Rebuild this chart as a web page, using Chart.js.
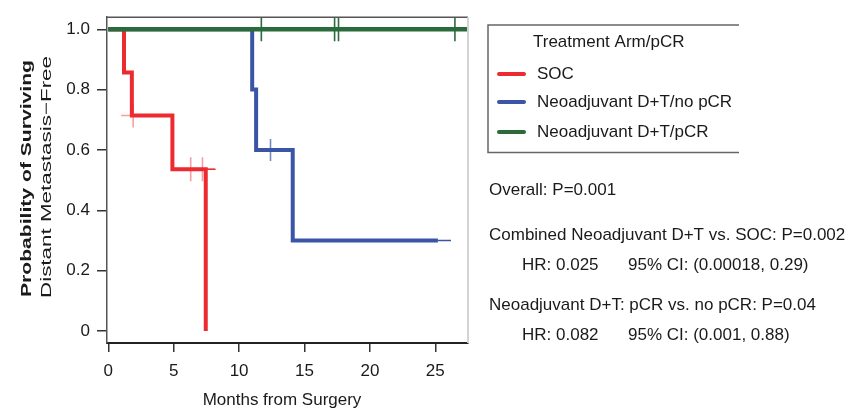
<!DOCTYPE html>
<html lang="en">

<head>
  <meta charset="UTF-8" />
  <title>Distant metastasis-free survival</title>
  <script src="https://cdn.jsdelivr.net/npm/chart.js"></script>
  <style>
    body { margin: 0; background: #fff; }
    #wrap { width: 856px; height: 417px; }
  </style>
</head>

<body>
  <div id="wrap">
    <canvas id="kmChart" width="856" height="417"></canvas>
  </div>

  <script>
    // tick values
    var xTicks = [0, 5, 10, 15, 20, 25];
    var yTicks = [0, 0.2, 0.4, 0.6, 0.8, 1.0];

    // SOC curve (Kaplan-Meier steps) and censored points
    var socTime = [0, 1.2, 1.8, 4.9, 7.45];
    var socSurv = [1, 0.857, 0.714, 0.536, 0];
    var socTailTime = [7.45, 8.2];
    var socTailSurv = [0.536, 0.536];
    var socCensorTime = [1.9, 6.3, 7.2];
    var socCensorSurv = [0.714, 0.536, 0.536];

    // Neoadjuvant D+T / no pCR
    var noPcrTime = [0, 11.0, 11.3, 14.1, 25.2];
    var noPcrSurv = [1, 0.8, 0.6, 0.3, 0.3];
    var noPcrTailTime = [25.2, 26.2];
    var noPcrTailSurv = [0.3, 0.3];
    var noPcrCensorTime = [12.4];
    var noPcrCensorSurv = [0.6];

    // Neoadjuvant D+T / pCR
    var pcrTime = [0, 27.5];
    var pcrSurv = [1, 1];
    var pcrCensorTime = [11.7, 17.3, 17.6, 26.5];
    var pcrCensorSurv = [1, 1, 1, 1];

    var legendTitle = 'Treatment Arm/pCR';
    var legendLabels = ['SOC', 'Neoadjuvant D+T/no pCR', 'Neoadjuvant D+T/pCR'];
    var colors = ['#ec2a30', '#3a55a5', '#2a6a3b'];

    var statLines = [
      'Overall: P=0.001',
      'Combined Neoadjuvant D+T vs. SOC: P=0.002',
      'Neoadjuvant D+T: pCR vs. no pCR: P=0.04'
    ];
    var hrLines = ['HR: 0.025', 'HR: 0.082'];
    var ciLines = ['95% CI: (0.00018, 0.29)', '95% CI: (0.001, 0.88)'];

    var FONT = "'Liberation Sans', Arial, sans-serif";
    var TEXT = '#1a1a1a';

    function pts(xs, ys) {
      return xs.map(function (x, i) { return { x: x, y: ys[i] }; });
    }

    function curve(xs, ys, color, width) {
      return {
        data: pts(xs, ys), showLine: true, stepped: true,
        borderColor: color, borderWidth: width, pointRadius: 0, fill: false
      };
    }

    function censors(xs, ys, color, style, r) {
      return {
        data: pts(xs, ys), showLine: false,
        pointStyle: style, rotation: style === 'line' ? 90 : 0,
        pointRadius: r, pointBorderColor: color, pointBorderWidth: 1.6,
        pointBackgroundColor: color
      };
    }

    // texte ajusté à une largeur donnée
    function fitText(ctx, text, x, y, w) {
      var m = ctx.measureText(text).width;
      ctx.save();
      ctx.translate(x, y);
      ctx.scale(w / m, 1);
      ctx.fillText(text, 0, 0);
      ctx.restore();
    }

    var decor = {
      id: 'decor',
      afterDraw: function (chart) {
        var ctx = chart.ctx;
        var a = chart.chartArea;
        ctx.save();

        // top / right frame
        ctx.strokeStyle = '#555';
        ctx.lineWidth = 1.5;
        ctx.beginPath();
        ctx.moveTo(a.left, a.top);
        ctx.lineTo(a.right, a.top);
        ctx.stroke();
        ctx.strokeStyle = '#d4d4d4';
        ctx.lineWidth = 2;
        ctx.beginPath();
        ctx.moveTo(a.right, a.top);
        ctx.lineTo(a.right, a.bottom);
        ctx.stroke();

        // legend box
        ctx.strokeStyle = '#666';
        ctx.lineWidth = 1.5;
        ctx.beginPath();
        ctx.moveTo(739, 25); ctx.lineTo(488, 25); ctx.lineTo(488, 152.5); ctx.lineTo(739, 152.5);
        ctx.stroke();

        ctx.fillStyle = TEXT;
        ctx.font = '17px ' + FONT;
        ctx.textBaseline = 'middle';
        ctx.textAlign = 'left';
        ctx.fillText(legendTitle, 533, 42);
        var ly = [74, 102, 132];
        ctx.lineCap = 'round';
        for (var i = 0; i < legendLabels.length; i++) {
          ctx.strokeStyle = colors[i];
          ctx.lineWidth = 4;
          ctx.beginPath();
          ctx.moveTo(499, ly[i]); ctx.lineTo(524, ly[i]);
          ctx.stroke();
          ctx.fillText(legendLabels[i], 537, ly[i]);
        }

        // stats text
        ctx.fillText(statLines[0], 489, 190);
        ctx.fillText(statLines[1], 489, 235);
        ctx.fillText(hrLines[0], 522, 265);
        ctx.fillText(ciLines[0], 628, 265);
        ctx.fillText(statLines[2], 489, 305);
        ctx.fillText(hrLines[1], 522, 335);
        ctx.fillText(ciLines[1], 628, 335);

        // x title
        ctx.textAlign = 'center';
        ctx.fillText('Months from Surgery', 282, 400);

        // y title (two lines, rotated)
        ctx.save();
        ctx.translate(27, 179);
        ctx.rotate(-Math.PI / 2);
        ctx.textAlign = 'left';
        ctx.font = 'bold 15px ' + FONT;
        fitText(ctx, 'Probability of Surviving', -118, 0, 237);
        ctx.restore();
        ctx.save();
        ctx.translate(47, 177);
        ctx.rotate(-Math.PI / 2);
        ctx.textAlign = 'left';
        ctx.font = '15px ' + FONT;
        fitText(ctx, 'Distant Metastasis\u2212Free', -121, 0, 242);
        ctx.restore();

        ctx.restore();
      }
    };

    var ctxKm = document.getElementById('kmChart').getContext('2d');
    var configKm = {
      type: 'scatter',
      data: {
        datasets: [
          curve(pcrTime, pcrSurv, colors[2], 4.5),
          censors(pcrCensorTime, pcrCensorSurv, colors[2], 'line', 12),
          curve(noPcrTime, noPcrSurv, colors[1], 4),
          curve(noPcrTailTime, noPcrTailSurv, colors[1], 1.5),
          censors(noPcrCensorTime, noPcrCensorSurv, 'rgba(58,85,165,0.7)', 'cross', 11),
          curve(socTime, socSurv, colors[0], 4),
          curve(socTailTime, socTailSurv, colors[0], 1.5),
          censors(socCensorTime, socCensorSurv, 'rgba(236,42,48,0.45)', 'cross', 12)
        ]
      },
      plugins: [decor],
      options: {
        responsive: false,
        animation: false,
        layout: { padding: { top: 9, right: 388, left: 0, bottom: 0 } },
        plugins: { legend: { display: false }, tooltip: { enabled: false } },
        scales: {
          x: {
            type: 'linear', min: -0.1, max: 27.5,
            afterBuildTicks: function (s) { s.ticks = xTicks.map(function (v) { return { value: v }; }); },
            afterFit: function (s) { s.height = 74; },
            grid: { drawOnChartArea: false, drawTicks: true, tickLength: 9, color: '#333', lineWidth: 1.5 },
            border: { display: true, color: '#222', width: 2 },
            ticks: { color: TEXT, font: { family: FONT, size: 17 }, padding: 9, maxRotation: 0 }
          },
          y: {
            type: 'linear', min: -0.04, max: 1.04,
            afterBuildTicks: function (s) { s.ticks = yTicks.map(function (v) { return { value: v }; }); },
            afterFit: function (s) { s.width = 107; },
            grid: { drawOnChartArea: false, drawTicks: true, tickLength: 10, color: '#333', lineWidth: 1.5 },
            border: { display: true, color: '#555', width: 1.5 },
            ticks: {
              color: TEXT, font: { family: FONT, size: 17 }, padding: 7,
              callback: function (v) { return v === 0 ? '0' : v.toFixed(1); }
            }
          }
        }
      }
    };
    var kmChart = new Chart(ctxKm, configKm);
  </script>
</body>

</html>
